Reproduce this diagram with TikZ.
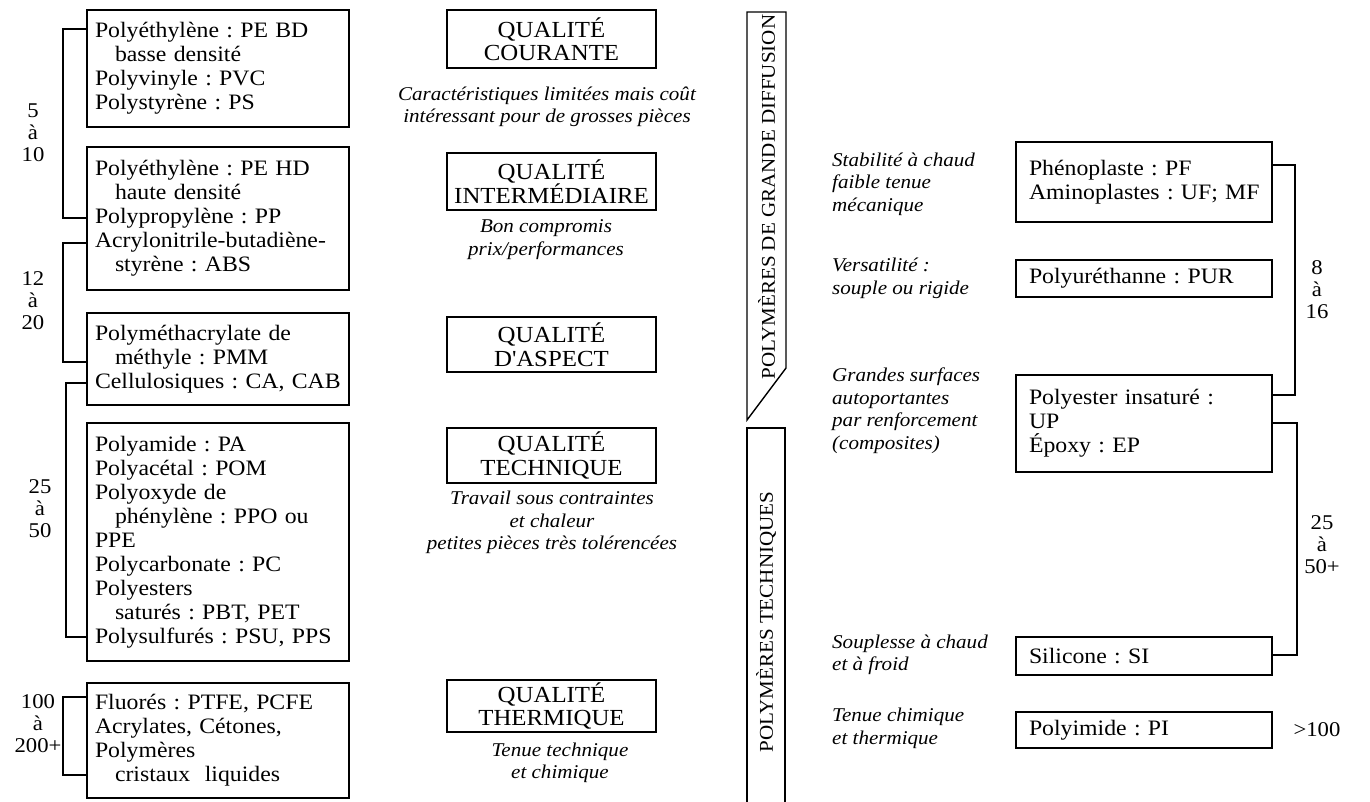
\documentclass[tikz,border=0pt]{standalone}
\usepackage{fontspec}
\setmainfont{Liberation Serif}[FakeStretch=1.08]
\frenchspacing
\begin{document}
\begin{tikzpicture}[x=1pt,y=-1pt,
 lw/.style={line width=1.4pt},
 lbox/.style={draw, lw, text width=252pt, inner xsep=5pt, inner ysep=0pt, align=left, font=\fontsize{22}{24}\selectfont},
 rbox/.style={draw, lw, text width=238pt, inner xsep=9pt, inner ysep=0pt, align=left, font=\fontsize{22}{24}\selectfont},
 qbox/.style={draw, lw, minimum width=209pt, inner sep=0pt, align=center, font=\fontsize{23}{23.5}\selectfont},
 captxt/.style={inner sep=0pt, align=center, font=\fontsize{19.5}{22.5}\selectfont\itshape},
 rcaptxt/.style={inner sep=0pt, align=left, anchor=west, font=\fontsize{19.5}{22.5}\selectfont\itshape},
 numtxt/.style={inner sep=0pt, align=center, font=\fontsize{21}{22}\selectfont},
 brk/.style={lw},
 banner/.style={inner sep=0pt, rotate=90, font=\fontsize{19.5}{22}\selectfont}
]
\fill[white] (0,0) rectangle (1370,802);
\useasboundingbox (0,0) rectangle (1370,802);

% ---------- left column ----------
\node[lbox, minimum height=117pt] (pebd) at (218,68.5) {\hspace*{3pt}Polyéthylène : PE BD\\\hspace*{23pt}basse densité\\\hspace*{3pt}Polyvinyle : PVC\\\hspace*{3pt}Polystyrène : PS};
\node[lbox, minimum height=143pt] (pehd) at (218,218.5) {\hspace*{3pt}Polyéthylène : PE HD\\\hspace*{23pt}haute densité\\\hspace*{3pt}Polypropylène : PP\\\hspace*{3pt}Acrylonitrile-butadiène-\\\hspace*{23pt}styrène : ABS};
\node[lbox, minimum height=92pt] (pmm) at (218,359) {\hspace*{3pt}Polyméthacrylate de\\\hspace*{23pt}méthyle : PMM\\\hspace*{3pt}Cellulosiques : CA, CAB};
\node[lbox, minimum height=238pt] (pa) at (218,542) {\hspace*{3pt}Polyamide : PA\\\hspace*{3pt}Polyacétal : POM\\\hspace*{3pt}Polyoxyde de\\\hspace*{23pt}phénylène : PPO ou\\\hspace*{3pt}PPE\\\hspace*{3pt}Polycarbonate : PC\\\hspace*{3pt}Polyesters\\\hspace*{23pt}saturés : PBT, PET\\\hspace*{3pt}Polysulfurés : PSU, PPS};
\node[lbox, minimum height=115pt] (ptfe) at (218,740.5) {\hspace*{3pt}Fluorés : PTFE, PCFE\\\hspace*{3pt}Acrylates, Cétones,\\\hspace*{3pt}Polymères\\\hspace*{23pt}cristaux\ \ liquides};

\draw[brk] (pebd.west |- 0,29) -- (63,29) -- (63,218) -- (pehd.west |- 0,218);
\draw[brk] (pehd.west |- 0,243) -- (63,243) -- (63,362) -- (pmm.west |- 0,362);
\draw[brk] (pmm.west |- 0,383) -- (66,383) -- (66,637) -- (pa.west |- 0,637);
\draw[brk] (ptfe.west |- 0,697) -- (63,697) -- (63,775) -- (ptfe.west |- 0,775);

\node[numtxt] (n1) at (33,132.5) {5\\à\\10};
\node[numtxt] (n2) at (33,301) {12\\à\\20};
\node[numtxt] (n3) at (40,509) {25\\à\\50};
\node[numtxt] (n4) at (38,724) {100\\à\\200+};

% ---------- middle column ----------
\node[qbox, minimum height=58pt] (qc) at (551.5,39) {QUALITÉ\\COURANTE};
\node[captxt] (cc) at (547,107) {Caractéristiques limitées mais coût\\intéressant pour de grosses pièces};
\node[qbox, minimum height=57pt] (qi) at (551.5,181.5) {QUALITÉ\\INTERMÉDIAIRE};
\node[captxt] (ci) at (546,239.5) {Bon compromis\\prix/performances};
\node[qbox, minimum height=55pt] (qa) at (551.5,344.5) {QUALITÉ\\D\textquotesingle ASPECT};
\node[qbox, minimum height=55pt] (qt) at (551.5,455.5) {QUALITÉ\\TECHNIQUE};
\node[captxt] (ct) at (552,522.5) {Travail sous contraintes\\et chaleur\\petites pièces très tolérencées};
\node[qbox, minimum height=52pt] (qth) at (551.5,706) {QUALITÉ\\THERMIQUE};
\node[captxt] (cth) at (560,763) {Tenue technique\\et chimique};

% ---------- banners ----------
\draw[lw] (747,12) -- (786,12) -- (786,368) -- (747,420) -- cycle;
\node[banner] (b1) at (766.5,197) {POLYMÈRES DE GRANDE DIFFUSION};
\draw[lw] (747,802) -- (747,428) -- (785,428) -- (785,802);
\node[banner] (b2) at (766,622) {POLYMÈRES TECHNIQUES};

% ---------- right column ----------
\node[rcaptxt] (r1) at (832,184) {Stabilité à chaud\\faible tenue\\mécanique};
\node[rcaptxt] (r2) at (832,278.5) {Versatilité :\\souple ou rigide};
\node[rcaptxt] (r3) at (832,410.5) {Grandes surfaces\\autoportantes\\par renforcement\\(composites)};
\node[rcaptxt] (r4) at (832,655) {Souplesse à chaud\\et à froid};
\node[rcaptxt] (r5) at (832,728.5) {Tenue chimique\\et thermique};

\node[rbox, minimum height=80pt] (pf) at (1144,182) {\hspace*{4pt}Phénoplaste : PF\\\hspace*{4pt}Aminoplastes : UF; MF};
\node[rbox, minimum height=37pt] (pur) at (1144,278.5) {\hspace*{4pt}Polyuréthanne : PUR};
\node[rbox, minimum height=97pt] (up) at (1144,423.5) {\hspace*{4pt}Polyester insaturé :\\\hspace*{4pt}UP\\\hspace*{4pt}Époxy : EP};
\node[rbox, minimum height=38pt] (si) at (1144,656) {\hspace*{4pt}Silicone : SI};
\node[rbox, minimum height=36pt] (pi) at (1144,730) {\hspace*{4pt}Polyimide : PI};

\draw[brk] (pf.east |- 0,165) -- (1295,165) -- (1295,395) -- (up.east |- 0,395);
\draw[brk] (up.east |- 0,423) -- (1297,423) -- (1297,655) -- (si.east |- 0,655);

\node[numtxt] (n5) at (1317,290) {8\\à\\16};
\node[numtxt] (n6) at (1322,545) {25\\à\\50+};
\node[numtxt] (n7) at (1317,730) {>100};
\end{tikzpicture}
\end{document}
